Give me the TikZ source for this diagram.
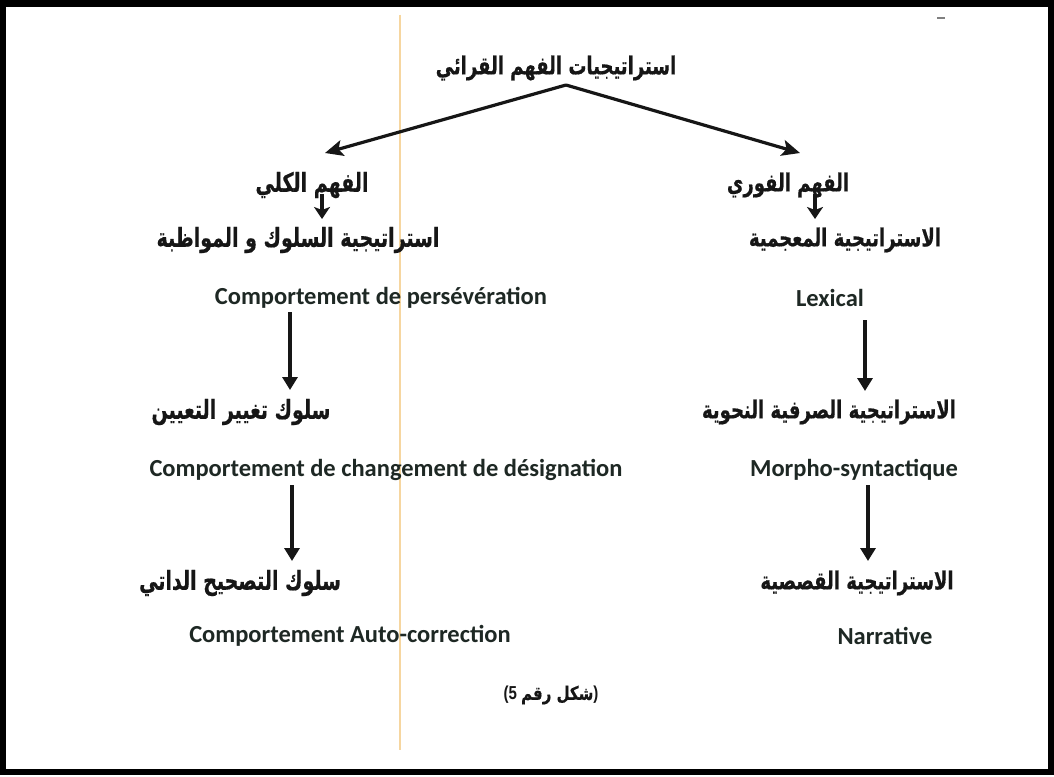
\documentclass[tikz,border=0pt]{standalone}
\usepackage{graphicx}
\usepackage{fontspec}
\setmainfont{Carlito}
\newfontfamily\arabicfont[Script=Arabic,BoldFeatures={FakeBold=0.6}]{DejaVu Sans}
\newfontfamily\capfont{Liberation Sans}
\TeXXeTstate=1
\usetikzlibrary{arrows.meta}
\definecolor{frcol}{RGB}{30,40,36}
\definecolor{arcol}{RGB}{22,22,22}
\definecolor{guide}{RGB}{246,214,160}
\newcommand\ARtext[1]{\scalebox{1}[1.38]{\beginR #1\endR}}
\tikzset{
  ar/.style={font=\arabicfont\bfseries\fontsize{18}{22}\selectfont, text=arcol, inner sep=0pt},
  arwide/.style={ar, font=\arabicfont\bfseries\fontsize{19}{23}\selectfont},
  fr/.style={font=\bfseries\fontsize{24.5}{29}\selectfont, text=frcol, inner sep=0pt},
  mainarr/.style={line width=3.2pt, draw=arcol, -{Stealth[length=18pt,width=16pt,inset=4pt]}},
  smallarr/.style={line width=3.4pt, draw=arcol, -{Stealth[length=12pt,width=16pt,inset=3pt]}},
  longarr/.style={line width=3.2pt, draw=arcol, -{Triangle[length=13pt,width=15pt]}},
}
\begin{document}
\begin{tikzpicture}[x=1pt,y=-1pt]
\useasboundingbox (0,0) rectangle (1054,776);
\fill[white] (0,0) rectangle (1054,776);
% faint guide line
\draw[guide, line width=1.8pt] (400,15) -- (400,750);
% border
\draw[black, line width=6.5pt] (3.2,3.5) rectangle (1050.8,772);
% small dash
\draw[gray, line width=2pt] (937,18) -- (945,18);

% title
\node[ar] (title) at (556,68) {\ARtext{استراتيجيات الفهم القرائي}};

% left branch
\node[arwide] (kulli) at (312,185) {\ARtext{الفهم الكلي}};
\node[arwide] (sulook) at (298,240) {\ARtext{استراتيجية السلوك و المواظبة}};
\node[fr] (persev) at (381,298) {Comportement de persévération};
\node[arwide] (taghyir) at (241,412) {\ARtext{سلوك تغيير التعيين}};
\node[fr] (design) at (386,470) {Comportement de changement de désignation};
\node[arwide] (tashih) at (240,583) {\ARtext{سلوك التصحيح الداتي}};
\node[fr] (auto) at (350,636) {Comportement Auto-correction};

% right branch
\node[ar] (fawri) at (788,185) {\ARtext{الفهم الفوري}};
\node[ar] (mujami) at (845,240) {\ARtext{الاستراتيجية المعجمية}};
\node[fr] (lexical) at (830,298) {Lexical};
\node[ar] (sarfi) at (829,412) {\ARtext{الاستراتيجية الصرفية النحوية}};
\node[fr] (morpho) at (854,470) {Morpho-syntactique};
\node[ar] (qasasi) at (857,583) {\ARtext{الاستراتيجية القصصية}};
\node[fr] (narr) at (885,636) {Narrative};

% caption
\node[inner sep=0pt, text=arcol] (cap) at (551,695)
  {\scalebox{1}[1.25]{\capfont\bfseries\fontsize{15}{18}\selectfont (5 {\arabicfont\bfseries\beginR شكل رقم\endR})}};

% connectors
\coordinate (apex) at (566,85);
\coordinate (lend) at (325,153);
\coordinate (rend) at (800,153);
\draw[mainarr] (apex) -- (lend);
\draw[mainarr] (apex) -- (rend);

\coordinate (sA1) at (322,194);
\coordinate (sA2) at (322,219);
\coordinate (sB1) at (815,194);
\coordinate (sB2) at (815,219);
\draw[smallarr] (sA1) -- (sA2);
\draw[smallarr] (sB1) -- (sB2);

\coordinate (lC1) at (290,312);
\coordinate (lC2) at (290,390);
\coordinate (lD1) at (865,320);
\coordinate (lD2) at (865,391);
\coordinate (lE1) at (292,485);
\coordinate (lE2) at (292,561);
\coordinate (lF1) at (868,485);
\coordinate (lF2) at (868,561);
\draw[longarr] (lC1) -- (lC2);
\draw[longarr] (lD1) -- (lD2);
\draw[longarr] (lE1) -- (lE2);
\draw[longarr] (lF1) -- (lF2);
\end{tikzpicture}
\end{document}
